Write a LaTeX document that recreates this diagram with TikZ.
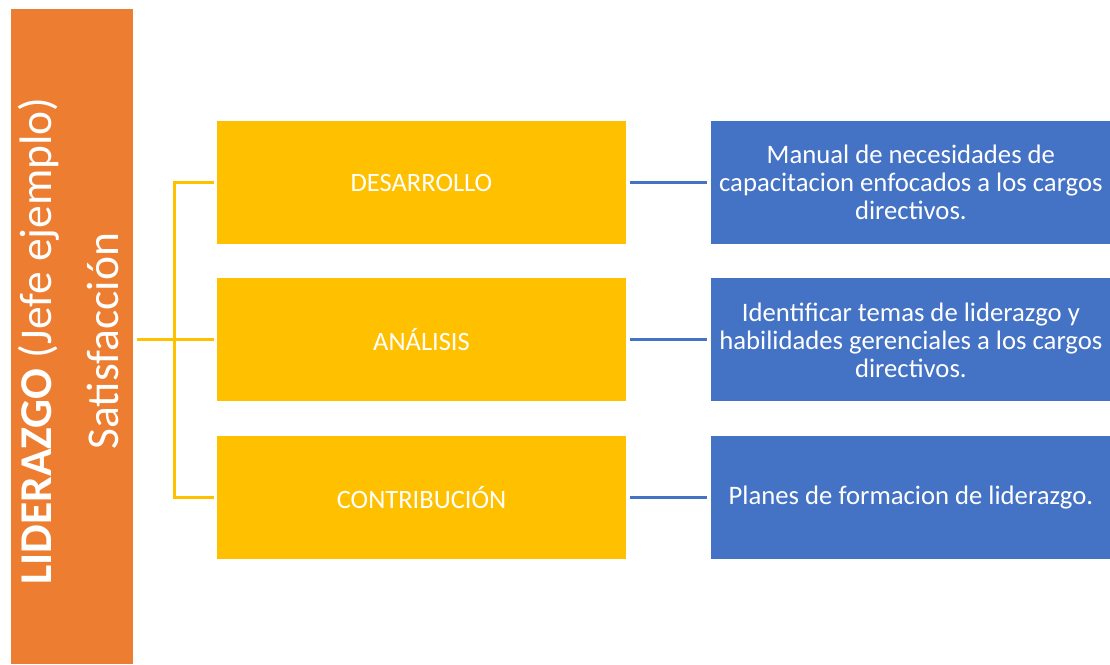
\documentclass[tikz,border=0pt]{standalone}
\usepackage{fontspec}
\setmainfont{Carlito}
\definecolor{naranjaLid}{HTML}{ED7D31}
\definecolor{amarilloLid}{HTML}{FFC000}
\definecolor{azulLid}{HTML}{4472C4}
\usetikzlibrary{positioning, calc}

\begin{document}
\begin{tikzpicture}[x=1pt, y=-1pt,
  node distance=34pt and 85pt,
  caja/.style={rectangle, inner sep=0pt, text=white, align=center},
  eje/.style={caja, fill=amarilloLid, minimum width=409pt, minimum height=123pt,
              font=\fontsize{26.5}{30}\selectfont},
  meta/.style={caja, fill=azulLid, minimum width=399pt, minimum height=123pt,
               font=\fontsize{26.7}{28}\selectfont},
  rama/.style={amarilloLid, line width=3pt},
  enlace/.style={azulLid, line width=3pt, shorten <=4pt, shorten >=4pt}
]
\useasboundingbox (0,0) rectangle (1110,664);

% Barra lateral
\node[caja, fill=naranjaLid, minimum width=122pt, minimum height=655pt] (lider) at (72,336.5) {};
\node[caja, rotate=90, font=\fontsize{45.5}{67}\selectfont] (titulo) at (69,341)
  {\textbf{LIDERAZGO} (Jefe ejemplo)\\Satisfacción};

% Ejes (amarillo)
\node[eje] (des) at (421.5,182.5) {DESARROLLO};
\node[eje, below=of des] (ana) {ANÁLISIS};
\node[eje, below=of ana] (con) {CONTRIBUCIÓN};

% Metas (azul)
\node[meta, right=of des] (m1) {Manual de necesidades de\\capacitacion enfocados a los cargos\\directivos.};
\node[meta, right=of ana] (m2) {Identificar temas de liderazgo y\\habilidades gerenciales a los cargos\\directivos.};
\node[meta, right=of con] (m3) {Planes de formacion de liderazgo.};

% Llave
\coordinate (nudo) at ([xshift=-42pt]ana.west);
\draw[rama, shorten <=4pt, shorten >=3pt] (lider.east |- ana.west) -- (ana.west);
\draw[rama, shorten <=3pt, shorten >=3pt] (des.west) -| (nudo) |- (con.west);

% Enlaces ejes->metas
\draw[enlace] (des) -- (m1);
\draw[enlace] (ana) -- (m2);
\draw[enlace] (con) -- (m3);

\end{tikzpicture}
\end{document}
